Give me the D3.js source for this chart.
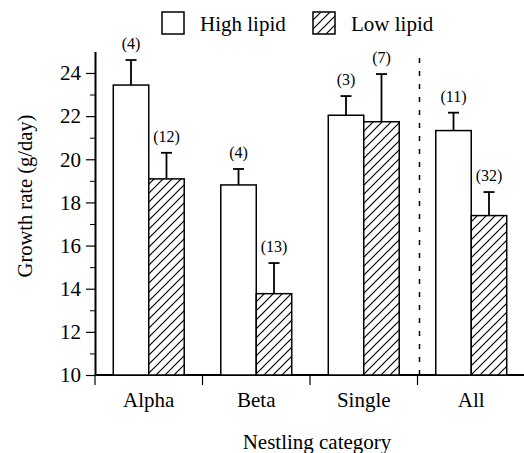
<!DOCTYPE html>
<html>
<head>
<meta charset="utf-8">
<script src="https://cdn.jsdelivr.net/npm/d3@7"></script>
<style>
  body { margin: 0; background: #fff; }
  text { font-family: "Liberation Serif", "Times New Roman", serif; fill: #000; }
</style>
</head>
<body>
<div id="chart"></div>
<script>
// data
const categories = ['Alpha', 'Beta', 'Single', 'All']
const series = ['High lipid', 'Low lipid']
const highMean = [23.44, 18.81, 22.04, 21.33]
const highErr = [1.16, 0.74, 0.89, 0.83]
const highN = ['(4)', '(4)', '(3)', '(11)']
const lowMean = [19.09, 13.77, 21.74, 17.39]
const lowErr = [1.21, 1.42, 2.21, 1.09]
const lowN = ['(12)', '(13)', '(7)', '(32)']
const yTicks = [10, 12, 14, 16, 18, 20, 22, 24]

const w = 524
const h = 453

const rows = []
categories.forEach((c, i) => {
    rows.push({ cat: c, s: series[0], mean: highMean[i], err: highErr[i], n: highN[i] })
    rows.push({ cat: c, s: series[1], mean: lowMean[i], err: lowErr[i], n: lowN[i] })
})

const svg = d3.select('#chart')
    .append('svg')
    .attr('width', w)
    .attr('height', h)

// hatch pattern for low lipid
const defs = svg.append('defs')
const pat = defs.append('pattern')
    .attr('id', 'hatch')
    .attr('patternUnits', 'userSpaceOnUse')
    .attr('width', 9)
    .attr('height', 9)
pat.append('rect').attr('width', 9).attr('height', 9).attr('fill', '#fff')
pat.append('path')
    .attr('d', 'M0,9 L9,0 M-2,2 L2,-2 M7,11 L11,7')
    .attr('stroke', '#000')
    .attr('stroke-width', 1.2)

const x = d3.scaleBand()
    .domain(categories)
    .range([95, 525])
    .paddingInner(0.34)
    .paddingOuter(0.17)

const xSub = d3.scaleBand()
    .domain(series)
    .range([0, x.bandwidth()])

const y = d3.scaleLinear()
    .domain([10, 25])
    .range([375, 51.4])

// y axis
const yAxis = d3.axisLeft(y)
    .tickValues(yTicks)
    .tickSize(9)
    .tickPadding(5)
    .tickSizeOuter(0)
const gy = svg.append('g')
    .attr('transform', 'translate(95,0)')
    .call(yAxis)
gy.select('.domain').attr('stroke-width', 2)
gy.selectAll('.tick line').attr('stroke-width', 1.2)
gy.selectAll('.tick text').style('font-size', '21px')

// minor ticks
const minor = d3.axisLeft(y)
    .tickValues([11, 13, 15, 17, 19, 21, 23])
    .tickSize(5)
    .tickFormat('')
    .tickSizeOuter(0)
const gm = svg.append('g')
    .attr('transform', 'translate(95,0)')
    .call(minor)
gm.select('.domain').remove()
gm.selectAll('.tick line').attr('stroke-width', 1)

// x axis, labels centered on categories
const xAxis = d3.axisBottom(x)
    .tickSize(0)
    .tickPadding(17)
const gx = svg.append('g')
    .attr('transform', 'translate(0,375)')
    .call(xAxis)
gx.select('.domain').remove()
gx.selectAll('.tick text').style('font-size', '21px')

svg.append('line')
    .attr('x1', 95).attr('x2', 525)
    .attr('y1', 375).attr('y2', 375)
    .attr('stroke', '#000')
    .attr('stroke-width', 2)

// boundary ticks between categories
const gap = x.step() * x.paddingInner() / 2
const bounds = categories.map(c => x(c) - gap).concat([x(categories[3]) + x.bandwidth() + gap])
svg.selectAll('.btick')
    .data(bounds)
    .enter()
    .append('line')
    .attr('x1', d => d).attr('x2', d => d)
    .attr('y1', 375).attr('y2', 385)
    .attr('stroke', '#000')
    .attr('stroke-width', 1.2)

// dashed separator before "All"
svg.append('line')
    .attr('x1', bounds[3] + 2).attr('x2', bounds[3] + 2)
    .attr('y1', 58).attr('y2', 375)
    .attr('stroke', '#000')
    .attr('stroke-width', 1.5)
    .attr('stroke-dasharray', '5,8')

// bars
svg.selectAll('.bar')
    .data(rows)
    .enter()
    .append('rect')
    .attr('class', 'bar')
    .attr('x', d => x(d.cat) + xSub(d.s))
    .attr('y', d => y(d.mean))
    .attr('width', xSub.bandwidth())
    .attr('height', d => y(10) - y(d.mean))
    .attr('fill', d => d.s === series[0] ? '#fff' : 'url(#hatch)')
    .attr('stroke', '#000')
    .attr('stroke-width', 1.5)

// error bars
const cx = d => x(d.cat) + xSub(d.s) + xSub.bandwidth() / 2
svg.selectAll('.err')
    .data(rows)
    .enter()
    .append('line')
    .attr('x1', cx).attr('x2', cx)
    .attr('y1', d => y(d.mean))
    .attr('y2', d => y(d.mean + d.err))
    .attr('stroke', '#000')
    .attr('stroke-width', 1.8)
svg.selectAll('.cap')
    .data(rows)
    .enter()
    .append('line')
    .attr('x1', d => cx(d) - 5.5).attr('x2', d => cx(d) + 5.5)
    .attr('y1', d => y(d.mean + d.err))
    .attr('y2', d => y(d.mean + d.err))
    .attr('stroke', '#000')
    .attr('stroke-width', 1.8)

// sample sizes
svg.selectAll('.nlab')
    .data(rows)
    .enter()
    .append('text')
    .attr('x', cx)
    .attr('y', d => y(d.mean + d.err) - 11)
    .attr('text-anchor', 'middle')
    .style('font-size', '16px')
    .text(d => d.n)

// axis titles
svg.append('text')
    .attr('x', 317)
    .attr('y', 449)
    .attr('text-anchor', 'middle')
    .style('font-size', '21px')
    .text('Nestling category')

svg.append('text')
    .attr('transform', 'translate(32,196) rotate(-90)')
    .attr('text-anchor', 'middle')
    .style('font-size', '20.5px')
    .text('Growth rate (g/day)')

// legend
const legX = [162, 313]
series.forEach((s, i) => {
    svg.append('rect')
        .attr('x', legX[i]).attr('y', 12)
        .attr('width', 22).attr('height', 22)
        .attr('fill', i === 0 ? '#fff' : 'url(#hatch)')
        .attr('stroke', '#000')
        .attr('stroke-width', 1.5)
    svg.append('text')
        .attr('x', legX[i] + 38)
        .attr('y', 31)
        .style('font-size', '21px')
        .text(s)
})
</script>
</body>
</html>
